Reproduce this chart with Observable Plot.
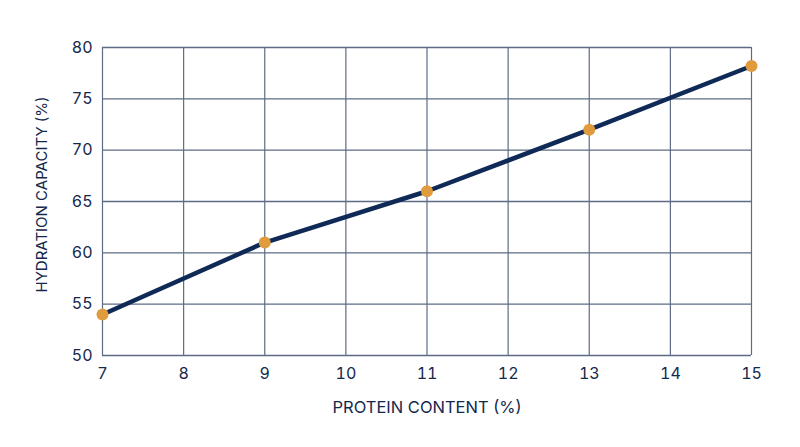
<!DOCTYPE html>
<html>
<head>
<meta charset="utf-8">
<script src="https://cdn.jsdelivr.net/npm/d3@7"></script>
<script src="https://cdn.jsdelivr.net/npm/@observablehq/plot@0.6"></script>
<style>
  html, body { margin: 0; padding: 0; background: #ffffff; }
  #chart svg { display: block; }
</style>
</head>
<body>
<div id="chart"></div>
<script>
const protein = [7, 9, 11, 13, 15];
const hydration = [54, 61, 66, 72, 78.2];
const xTicks = [7, 8, 9, 10, 11, 12, 13, 14, 15];
const yTicks = [50, 55, 60, 65, 70, 75, 80];
const xLabel = "PROTEIN CONTENT (%)";
const yLabel = "HYDRATION CAPACITY (%)";

const data = protein.map((p, i) => ({ p, h: hydration[i] }));
const ink = "#13284c";
const gridColor = "#5d6c84";

const chart = Plot.plot({
  width: 800,
  height: 447,
  marginLeft: 102,
  marginRight: 49,
  marginTop: 47,
  marginBottom: 92,
  style: { fontFamily: "Inter, sans-serif", fontSize: "16px", color: ink, background: "#ffffff" },
  x: { domain: [7, 15], ticks: xTicks, tickFormat: d => String(d) },
  y: { domain: [50, 80], ticks: yTicks, tickFormat: d => String(d) },
  marks: [
    Plot.ruleX(xTicks, { stroke: gridColor, strokeWidth: 1.2 }),
    Plot.ruleY(yTicks, { stroke: gridColor, strokeWidth: 1.4 }),
    Plot.axisX({ ticks: xTicks, tickSize: 0, tickPadding: 12, label: null, fill: ink, fontSize: 16 }),
    Plot.axisY({ ticks: yTicks, tickSize: 0, tickPadding: 10, label: null, fill: ink, fontSize: 16 }),
    Plot.text([xLabel], { frameAnchor: "bottom", dy: 52, text: d => d, fill: ink, fontSize: 16.5, lineAnchor: "middle", textAnchor: "middle" }),
    Plot.text([yLabel], { frameAnchor: "left", dx: -60, dy: -7, rotate: -90, text: d => d, fill: ink, fontSize: 15, lineAnchor: "middle", textAnchor: "middle" }),
    Plot.line(data, { x: "p", y: "h", stroke: "#0f2a56", strokeWidth: 4.5 }),
    Plot.dot(data, { x: "p", y: "h", r: 6, fill: "#e09b3d", stroke: "none" })
  ]
});
document.getElementById("chart").appendChild(chart);
</script>
</body>
</html>
